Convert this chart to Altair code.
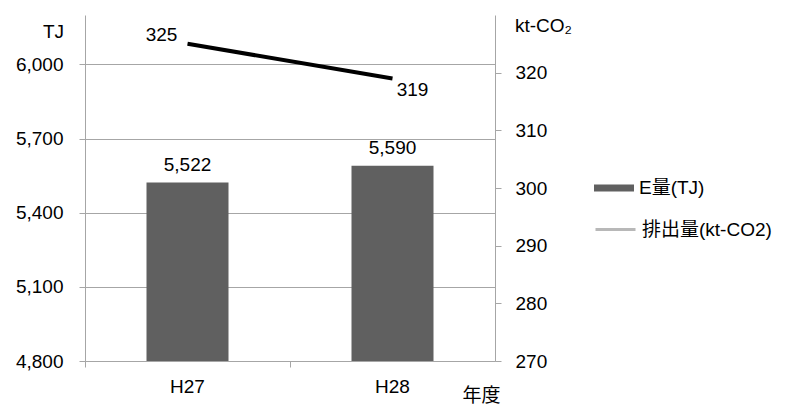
import altair as alt
import pandas as pd

years = ["H27", "H28"]
energy = [5522, 5590]
co2 = [325, 319]
bar_series = ["E量(TJ)"]
line_series = ["排出量(kt-CO2)"]
left_ticks = [4800, 5100, 5400, 5700, 6000]
right_ticks = [270, 280, 290, 300, 310, 320]

df = pd.DataFrame({"year": years, "energy": energy, "co2": co2})

FONT = "Liberation Sans, Noto Sans CJK JP"
AX = "#a6a6a6"
FS = 19

x_enc = alt.X(
    "year:N",
    sort=years,
    scale=alt.Scale(paddingInner=0.6, paddingOuter=0.3),
    axis=alt.Axis(
        title="年度", titleX=396, titleY=34, titleAlign="center", titleBaseline="middle",
        titleFontWeight="normal", titleFontSize=FS, labelAngle=0, labelFontSize=FS,
        labelPadding=10, tickSize=6, bandPosition=-0.75, domainColor=AX, tickColor=AX,
        labelColor="#000000", titleColor="#000000",
    ),
)

y_left = alt.Y(
    "energy:Q",
    scale=alt.Scale(domain=[4800, 6200], nice=False, zero=False),
    axis=alt.Axis(
        values=left_ticks, format=",d", grid=True, gridColor=AX, domainColor=AX,
        tickColor=AX, tickSize=6, labelPadding=16, labelFontSize=FS,
        labelColor="#000000", title="TJ", titleAngle=0, titleX=-32, titleY=16,
        titleAlign="center", titleBaseline="middle", titleFontSize=FS,
        titleFontWeight="normal", titleColor="#000000",
    ),
)

y_right = alt.Y(
    "co2:Q",
    scale=alt.Scale(domain=[270, 330], nice=False, zero=False),
    axis=alt.Axis(
        orient="right", values=right_ticks, format="d", grid=False, domainColor=AX,
        tickColor=AX, tickSize=6, labelPadding=14, labelFontSize=FS,
        labelColor="#000000", title="kt-CO₂", titleAngle=0, titleX=48, titleY=10,
        titleAlign="center", titleBaseline="middle", titleFontSize=FS,
        titleFontWeight="normal", titleColor="#000000",
    ),
)

base = alt.Chart(df)

bars = base.mark_bar(clip=True).encode(
    fill=alt.Fill(
        "s:N",
        scale=alt.Scale(domain=bar_series, range=["#606060"]),
        legend=alt.Legend(
            title=None, orient="none", legendX=509, legendY=153,
            symbolType="M-1,-0.17H1V0.17H-1Z", symbolSize=1600, symbolStrokeWidth=0,
            labelFontSize=FS, labelOffset=5, labelColor="#000000",
        ),
    ),
).transform_calculate(s="'E量(TJ)'")

bar_labels = base.mark_text(baseline="bottom", dy=-8, fontSize=FS, color="#000000").encode(
    text=alt.Text("energy:Q", format=","),
)

left = alt.layer(bars, bar_labels).encode(x=x_enc, y=y_left)

line = base.mark_line(color="#000000", strokeWidth=4)

# legend-only layer (no rows survive the filter); it gives the grey legend stroke
legend_line = base.mark_line(strokeWidth=3).encode(
    stroke=alt.Stroke(
        "s2:N",
        scale=alt.Scale(domain=line_series, range=["#b8b8b8"]),
        legend=alt.Legend(
            title=None, orient="none", legendX=509, legendY=193,
            symbolType="stroke", symbolSize=1600, symbolStrokeWidth=3,
            labelFontSize=FS, labelOffset=5, labelColor="#000000",
        ),
    ),
).transform_calculate(s2="'排出量(kt-CO2)'").transform_filter("false")

lab1 = base.mark_text(fontSize=FS, color="#000000", dx=-26, dy=-9, baseline="middle").encode(
    text="co2:Q"
).transform_filter(alt.datum.year == years[0])
lab2 = base.mark_text(fontSize=FS, color="#000000", dx=20, dy=12, baseline="middle").encode(
    text="co2:Q"
).transform_filter(alt.datum.year == years[1])

right = alt.layer(line, legend_line, lab1, lab2).encode(x=x_enc, y=y_right)

chart = (
    alt.layer(left, right)
    .resolve_scale(y="independent")
    .properties(width=410, height=346, padding={"left": 7, "top": 7, "right": 5, "bottom": 5})
    .configure(font=FONT)
    .configure_view(stroke="transparent")
)

chart.save("out.html", embed_options={"renderer": "svg", "actions": False})
